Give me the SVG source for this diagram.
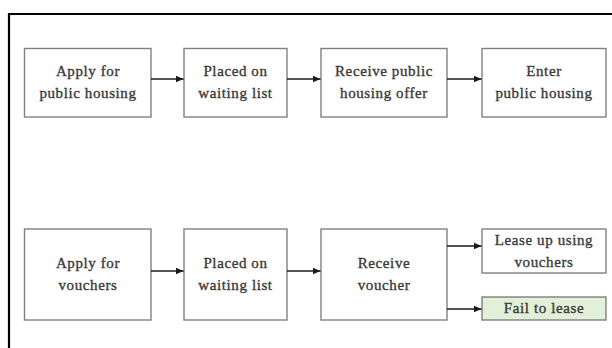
<svg xmlns="http://www.w3.org/2000/svg" width="612" height="348" viewBox="0 0 612 348">
  <defs>
    <marker id="ah" markerWidth="9" markerHeight="9" refX="8" refY="4.5" orient="auto" markerUnits="userSpaceOnUse">
      <path d="M0,1 L8,4.5 L0,8 Z" fill="#1a1a1a"/>
    </marker>
  </defs>
  <style>
    .box { fill: #ffffff; stroke: #808080; stroke-width: 1.4; }
    .green { fill: #e2efd9; }
    .lbl { font-family: "Liberation Serif", "DejaVu Serif", serif; font-size: 15px; letter-spacing: 0.6px; fill: #3a3a3a; stroke: #3a3a3a; stroke-width: 0.35; text-anchor: middle; }
    .conn { stroke: #1a1a1a; stroke-width: 1.7; fill: none; marker-end: url(#ah); }
  </style>
  <rect x="0" y="0" width="612" height="348" fill="#ffffff"/>
  <g id="frame">
    <line x1="9" y1="14" x2="612" y2="14" stroke="#000" stroke-width="2.2"/>
    <line x1="9" y1="13" x2="9" y2="348" stroke="#000" stroke-width="2.2"/>
  </g>

  <g id="ph-apply">
    <rect class="box" x="24.5" y="48.5" width="126.5" height="68.5"/>
    <text class="lbl" x="88" y="76">Apply for</text>
    <text class="lbl" x="88" y="98">public housing</text>
  </g>
  <g id="ph-wait">
    <rect class="box" x="184" y="48.5" width="103" height="68.5"/>
    <text class="lbl" x="235.5" y="76">Placed on</text>
    <text class="lbl" x="235.5" y="98">waiting list</text>
  </g>
  <g id="ph-offer">
    <rect class="box" x="321" y="48.5" width="126" height="68.5"/>
    <text class="lbl" x="384" y="76">Receive public</text>
    <text class="lbl" x="384" y="98">housing offer</text>
  </g>
  <g id="ph-enter">
    <rect class="box" x="482" y="48.5" width="124" height="68.5"/>
    <text class="lbl" x="544" y="76">Enter</text>
    <text class="lbl" x="544" y="98">public housing</text>
  </g>

  <g id="v-apply">
    <rect class="box" x="24.5" y="229" width="126.5" height="91"/>
    <text class="lbl" x="88" y="268">Apply for</text>
    <text class="lbl" x="88" y="290">vouchers</text>
  </g>
  <g id="v-wait">
    <rect class="box" x="184" y="229" width="103" height="91"/>
    <text class="lbl" x="235.5" y="268">Placed on</text>
    <text class="lbl" x="235.5" y="290">waiting list</text>
  </g>
  <g id="v-receive">
    <rect class="box" x="321" y="229" width="126" height="91"/>
    <text class="lbl" x="384" y="268">Receive</text>
    <text class="lbl" x="384" y="290">voucher</text>
  </g>
  <g id="v-lease">
    <rect class="box" x="482" y="229" width="124" height="44"/>
    <text class="lbl" x="544" y="245">Lease up using</text>
    <text class="lbl" x="544" y="267">vouchers</text>
  </g>
  <g id="v-fail">
    <rect class="box green" x="482" y="297" width="124" height="23"/>
    <text class="lbl" x="544" y="313">Fail to lease</text>
  </g>

  <g id="connectors">
    <line class="conn" x1="151" y1="79" x2="183.5" y2="79"/>
    <line class="conn" x1="287" y1="79" x2="320.5" y2="79"/>
    <line class="conn" x1="447" y1="79" x2="481.5" y2="79"/>
    <line class="conn" x1="151" y1="271" x2="183.5" y2="271"/>
    <line class="conn" x1="287" y1="271" x2="320.5" y2="271"/>
    <line class="conn" x1="447" y1="246" x2="481.5" y2="246"/>
    <line class="conn" x1="447" y1="309" x2="481.5" y2="309"/>
  </g>
</svg>
